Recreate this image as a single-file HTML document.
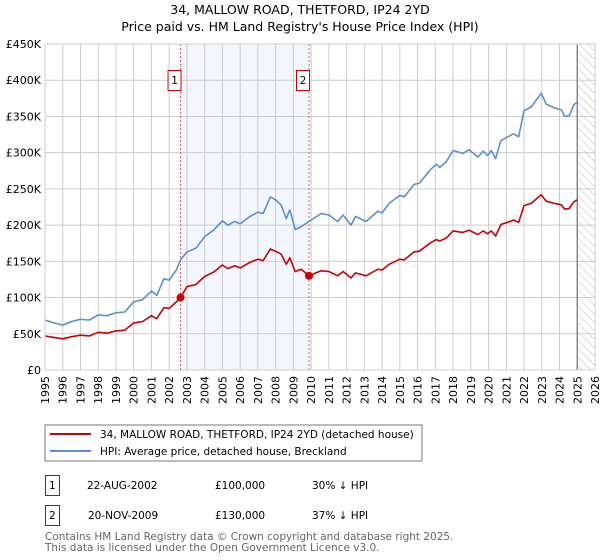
<!DOCTYPE html>
<html><head><meta charset="utf-8">
<style>
body{margin:0;background:#fff;font-family:"DejaVu Sans","Liberation Sans",sans-serif;}
svg{display:block}
</style></head>
<body>
<svg id="c" width="600" height="560" xmlns="http://www.w3.org/2000/svg" font-family="DejaVu Sans, Liberation Sans, sans-serif">
<text x="300" y="14" text-anchor="middle" font-size="12.5">34, MALLOW ROAD, THETFORD, IP24 2YD</text>
<text x="300" y="31" text-anchor="middle" font-size="12.5">Price paid vs. HM Land Registry's House Price Index (HPI)</text>
<defs><pattern id="hatch" width="6" height="6" patternUnits="userSpaceOnUse" patternTransform="rotate(-45)"><line x1="0" y1="0" x2="0" y2="6" stroke="#bbb" stroke-width="1"/></pattern></defs>
<g id="plot"></g>
<rect x="45" y="425" width="377" height="36" fill="#fff" stroke="#777"/>
<line x1="50" y1="434" x2="91" y2="434" stroke="#cc0000" stroke-width="2"/>
<text x="100" y="438" font-size="10.5">34, MALLOW ROAD, THETFORD, IP24 2YD (detached house)</text>
<line x1="50" y1="451" x2="91" y2="451" stroke="#5b8fd0" stroke-width="2"/>
<text x="100" y="455" font-size="10.5">HPI: Average price, detached house, Breckland</text>
<g font-size="10.5">
<rect x="45.5" y="475.5" width="14" height="20" fill="#fff" stroke="#cc0000"/>
<text x="49" y="489">1</text><text x="87" y="489">22-AUG-2002</text><text x="215" y="489">£100,000</text><text x="312" y="489">30% ↓ HPI</text></g>
<g font-size="10.5">
<rect x="45.5" y="505.5" width="14" height="20" fill="#fff" stroke="#cc0000"/>
<text x="49" y="519">2</text><text x="88" y="519">20-NOV-2009</text><text x="215" y="519">£130,000</text><text x="312" y="519">37% ↓ HPI</text></g>
<text x="45" y="540" font-size="10.5" fill="#666">Contains HM Land Registry data © Crown copyright and database right 2025.</text>
<text x="45" y="551" font-size="10.5" fill="#666">This data is licensed under the Open Government Licence v3.0.</text>
</svg>
<script>
const hpiYears=[1995,1995.5,1996,1996.5,1997,1997.5,1998,1998.5,1999,1999.5,2000,2000.5,2001,2001.3,2001.7,2002,2002.4,2002.64,2003,2003.5,2004,2004.5,2005,2005.3,2005.7,2006,2006.5,2007,2007.3,2007.7,2008,2008.3,2008.6,2008.8,2009.1,2009.44,2009.88,2010.56,2011,2011.5,2011.8,2012.25,2012.5,2013.1,2013.75,2014,2014.4,2015,2015.25,2015.8,2016.1,2016.7,2017.05,2017.25,2017.6,2018,2018.55,2018.9,2019.4,2019.7,2019.95,2020.15,2020.4,2020.7,2021.1,2021.4,2021.7,2022,2022.4,2022.97,2023.25,2023.7,2024.1,2024.3,2024.55,2024.8,2025];
const hpiValues=[69,65,62,67,70,69,76,75,79,80,94,97,109,103,126,124,138,152,163,168,184,193,206,200,205,202,211,218,216,239,235,228,209,221,194,198,205,216,214,205,214,200,212,205,219,217,230,241,239,256,258,276,284,280,287,303,299,304,294,302,296,303,292,317,322,326,322,358,363,382,367,362,359,350,351,366,370];
const redValues=[47,45,43,46,48,47,52,51,54,55,65,67,75,71,86,85,94,100,115,118,129,135,145,140,144,141,148,153,151,167,164,160,146,155,136,139,130,137,136,130,136,127,134,130,139,138,146,153,152,163,164,175,180,178,182,192,190,193,187,192,188,192,185,201,204,207,204,227,230,242,233,230,228,222,223,232,235];
const yTicks=[0,50,100,150,200,250,300,350,400,450];
const yTickLabels=["£0","£50K","£100K","£150K","£200K","£250K","£300K","£350K","£400K","£450K"];
const xYears=[1995,1996,1997,1998,1999,2000,2001,2002,2003,2004,2005,2006,2007,2008,2009,2010,2011,2012,2013,2014,2015,2016,2017,2018,2019,2020,2021,2022,2023,2024,2025,2026];
const sales=[{n:"1",year:2002.64,price:100},{n:"2",year:2009.88,price:130}];
const X0=45,X1=595,Y0=370,Y1=44;
const xs=y=>X0+(y-1995)/(2026-1995)*(X1-X0);
const ys=v=>Y0-v/450*(Y0-Y1);
const NS="http://www.w3.org/2000/svg";
const g=document.getElementById('plot');
function mk(t,a){const e=document.createElementNS(NS,t);for(const k in a)e.setAttribute(k,a[k]);g.appendChild(e);return e;}
let e=mk('rect',{x:xs(sales[0].year),y:Y1,width:xs(sales[1].year)-xs(sales[0].year),height:Y0-Y1,fill:'#eef3fc',opacity:0.7});


e=mk('rect',{x:xs(2025),y:Y1,width:X1-xs(2025),height:Y0-Y1,fill:'url(#hatch)'});


yTicks.forEach((v,i)=>{
 let l=mk('line',{x1:X0,x2:X1,y1:ys(v),y2:ys(v),stroke:'#ccc'});
 
 
 let t=mk('text',{x:X0-4,y:ys(v)+4,'text-anchor':'end','font-size':'11'});t.textContent=yTickLabels[i];
 
 
});
xYears.forEach(y=>{
 let l=mk('line',{x1:xs(y),x2:xs(y),y1:Y1,y2:Y0,stroke:'#ccc'});
 
 
 let t=mk('text',{x:0,y:0,'text-anchor':'end','font-size':'11',transform:`translate(${xs(y)+4},${Y0+6}) rotate(-90)`});t.textContent=y;
 
 
});
e=mk('line',{x1:xs(2025),x2:xs(2025),y1:Y1,y2:Y0,stroke:'#888','stroke-width':1.5});


sales.forEach(s=>{
 let l=mk('line',{x1:xs(s.year),x2:xs(s.year),y1:Y1,y2:Y0,stroke:'#e06060','stroke-dasharray':'2,2'});
 
 
});
function line(vals,col,name){
 const d=vals.map((v,i)=>(i?'L':'M')+xs(hpiYears[i]).toFixed(1)+','+ys(v).toFixed(1)).join('');
 const p=mk('path',{d:d,fill:'none',stroke:col,'stroke-width':1.6,'stroke-linejoin':'round'});
 
 
}
line(hpiValues,'#5b8fd0','hpi-line');
line(redValues,'#cc0000','price-paid-line');
sales.forEach(s=>{
 let c=mk('circle',{cx:xs(s.year),cy:ys(s.price),r:4,fill:'#cc0000'});
 
 
 let r=mk('rect',{x:xs(s.year)-12.5,y:70.5,width:13,height:20,fill:'#fff',stroke:'#cc0000'});
 
 
 let t=mk('text',{x:xs(s.year)-6,y:84,'text-anchor':'middle','font-size':'10.5'});t.textContent=s.n;
 
 
});
e=mk('rect',{x:X0,y:Y1,width:X1-X0,height:Y0-Y1,fill:'none',stroke:'#ccc'});


</script>
</body></html>
